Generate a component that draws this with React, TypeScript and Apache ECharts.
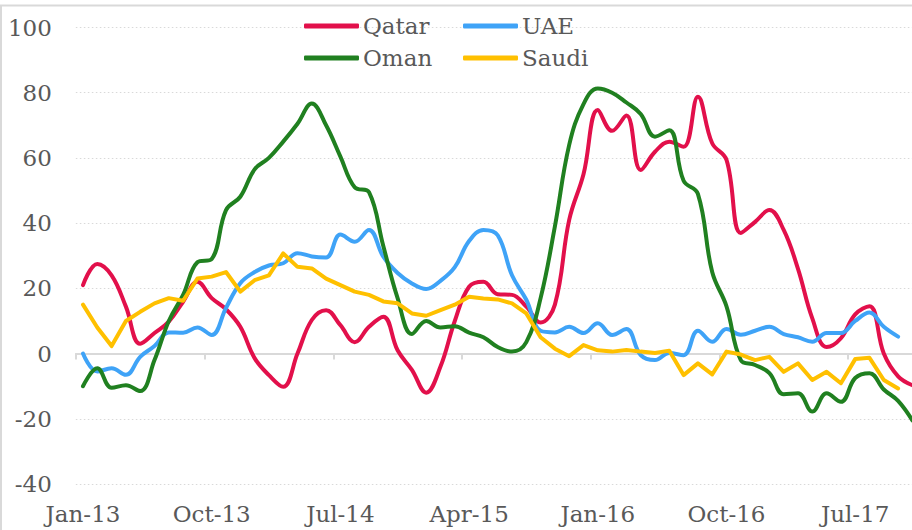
import React, { useEffect, useRef } from "react";
import * as echarts from "echarts";

const months = ["Jan", "Feb", "Mar", "Apr", "May", "Jun", "Jul", "Aug", "Sep", "Oct", "Nov", "Dec"];
const categories: string[] = [];
for (let y = 13; y <= 17; y++) {
  for (let m = 0; m < 12; m++) {
    if (y === 17 && m > 10) break;
    categories.push(`${months[m]}-${y}`);
  }
}

const qatar = [
  21, 27.5, 24, 14.4, 3, 6.3, 9.8, 15.9, 22, 17,
  13.6, 8.2, -1.4, -6.6, -10.2, 0, 10.3, 13.3, 8.7, 3.5,
  8.2, 11.3, 1, -5, -12, -4, 10, 20.5, 22, 18.2,
  18, 14.4, 9.5, 15, 41, 55, 74.7, 68.3, 73, 56.3,
  61.9, 65, 63.4, 78.8, 64.5, 59.4, 37, 40.4, 44, 37.9,
  26, 10.8, 2, 4.7, 12, 14.5, 0, -7, -9.7,
];
const uae = [
  0, -5.5, -4.5, -6.5, -1, 2.3, 6.5, 6.4, 8, 5.7,
  14, 21.6, 25, 27, 27.7, 30.8, 29.8, 29.5, 36.5, 34.3,
  37.9, 29.7, 24.7, 21.5, 19.8, 22.3, 26.5, 34.5, 37.9, 36.3,
  24, 16.5, 7, 6.5, 8.2, 6.3, 9.3, 5.7, 7.5, -0.5,
  -2, 0.2, -0.5, 7, 3.6, 7.5, 5.8, 7, 8.2, 6,
  5, 3.6, 6.3, 6.3, 10, 12.6, 8.2, 5.2, null,
];
const oman = [
  -10, -4.5, -10.5, -9.7, -11.5, -2, 10, 18, 28, 29,
  44, 48.1, 56.5, 60, 65, 70.5, 76.7, 70, 60.4, 51,
  49.5, 33, 17, 6, 10, 8, 8.4, 6.4, 5, 2,
  0.6, 3.5, 17, 39, 64, 76.5, 81.3, 80, 77, 73.5,
  66.5, 68.5, 53, 49, 25, 14.5, -2, -3.5, -6, -12.5,
  -12.2, -17.8, -12.2, -14.8, -7.5, -6, -11, -14.5, -20.5,
];
const saudi = [
  15, 8, 2.3, 10, 12.8, 15.4, 17, 16.2, 23, 23.6,
  25, 19, 22.5, 24, 30.7, 26.6, 26.1, 23, 21, 19,
  18, 16, 15.4, 12.3, 11.6, 13.3, 15, 17.4, 16.9, 16.6,
  15.4, 12.3, 5, 1.5, -0.8, 2.6, 1, 0.6, 1.1, 0.6,
  0.2, 0.9, -6.6, -3, -6.4, 0.6, -0.3, -2, -1, -5.6,
  -3, -8.1, -5.6, -9.1, -1.7, -1.3, -8.1, -10.7, null,
];

const seriesNames = ["Qatar", "UAE", "Oman", "Saudi"];
const seriesColors = ["#E2104B", "#3FA3F7", "#208020", "#FFC000"];
const seriesData = [qatar, uae, oman, saudi];
const seriesSmooth = [0.4, 0.4, 0.4, false];

const FONT = "DejaVu Serif";
const TEXT_COLOR = "#595959";

export default function App() {
  const ref = useRef<HTMLDivElement>(null);

  useEffect(() => {
    if (!ref.current) return;
    const chart = echarts.init(ref.current, undefined, { renderer: "svg" });
    const catW = 14.3;
    const gridLeft = 75.85;
    const gridTop = 27.5;
    const gridH = 456.5;

    const legendPos = [
      { left: 304, top: 14 },
      { left: 463, top: 14 },
      { left: 304, top: 46 },
      { left: 463, top: 46 },
    ];

    const option: any = {
      animation: false,
      backgroundColor: "#ffffff",
      grid: {
        left: gridLeft,
        top: gridTop,
        width: catW * categories.length,
        height: gridH,
        containLabel: false,
      },
      legend: seriesNames.map((n, i) => ({
        data: [n],
        left: legendPos[i].left,
        top: legendPos[i].top,
        padding: 0,
        itemWidth: 55,
        itemHeight: 5,
        icon: "roundRect",
        textStyle: {
          fontFamily: FONT,
          fontSize: 23,
          color: TEXT_COLOR,
          lineHeight: 24,
          padding: [0, 0, 0, -1],
        },
      })),
      xAxis: [
        {
          type: "category",
          data: categories,
          boundaryGap: true,
          position: "bottom",
          axisLine: { show: false, onZero: false },
          axisTick: { show: false },
          axisLabel: {
            interval: 8,
            fontFamily: FONT,
            fontSize: 23,
            color: TEXT_COLOR,
            margin: 18,
          },
          splitLine: { show: false },
        },
        {
          type: "category",
          data: categories,
          boundaryGap: true,
          position: "bottom",
          axisLine: { show: true, onZero: true, lineStyle: { color: "#d9d9d9", width: 2 } },
          axisTick: {
            show: true,
            interval: 8,
            alignWithLabel: false,
            length: 6,
            lineStyle: { color: "#d9d9d9", width: 2 },
          },
          axisLabel: { show: false },
          splitLine: { show: false },
        },
      ],
      yAxis: {
        type: "value",
        min: -40,
        max: 100,
        interval: 20,
        axisLine: { show: false },
        axisTick: { show: false },
        axisLabel: {
          fontFamily: FONT,
          fontSize: 23,
          color: TEXT_COLOR,
          margin: 24,
        },
        splitLine: {
          show: true,
          lineStyle: { color: "#d9d9d9", width: 1, type: [1.5, 2.5] },
        },
      },
      graphic: [
        {
          type: "rect",
          shape: { x: 1, y: 5.5, width: 2000, height: 2000 },
          style: { fill: "none", stroke: "#d9d9d9", lineWidth: 2 },
          silent: true,
          z: 0,
        },
      ],
      series: seriesNames.map((n, i) => ({
        name: n,
        type: "line",
        xAxisIndex: 0,
        data: seriesData[i],
        smooth: seriesSmooth[i],
        showSymbol: false,
        symbol: "none",
        connectNulls: false,
        lineStyle: { color: seriesColors[i], width: 4, cap: "round", join: "round" },
        itemStyle: { color: seriesColors[i] },
        z: 2 + i,
      })),
    };
    chart.setOption(option);
    return () => chart.dispose();
  }, []);

  return (
    <div
      style={{
        position: "fixed",
        left: 0,
        top: 0,
        width: 912,
        height: 530,
        overflow: "hidden",
        background: "#fff",
      }}
    >
      <div ref={ref} style={{ width: 925, height: 530 }} />
    </div>
  );
}
